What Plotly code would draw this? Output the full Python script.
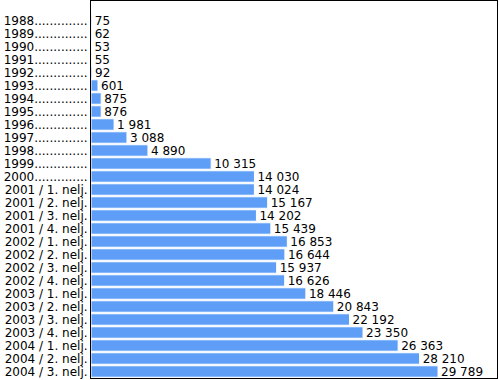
import plotly.graph_objects as go

categories = ["1988", "1989", "1990", "1991", "1992", "1993", "1994", "1995",
              "1996", "1997", "1998", "1999", "2000",
              "2001 / 1. nelj.", "2001 / 2. nelj.", "2001 / 3. nelj.", "2001 / 4. nelj.",
              "2002 / 1. nelj.", "2002 / 2. nelj.", "2002 / 3. nelj.", "2002 / 4. nelj.",
              "2003 / 1. nelj.", "2003 / 2. nelj.", "2003 / 3. nelj.", "2003 / 4. nelj.",
              "2004 / 1. nelj.", "2004 / 2. nelj.", "2004 / 3. nelj."]
values = [75, 62, 53, 55, 92, 601, 875, 876, 1981, 3088, 4890, 10315, 14030,
          14024, 15167, 14202, 15439, 16853, 16644, 15937, 16626,
          18446, 20843, 22192, 23350, 26363, 28210, 29789]

labels = [c if "nelj" in c else c + "." * 14 for c in categories]
texts = [f"{v:,}".replace(",", " ") for v in values]

fig = go.Figure(go.Bar(
    y=labels, x=values, orientation="h",
    text=texts, textposition="outside", cliponaxis=False, constraintext="none",
    textfont=dict(family="DejaVu Sans", size=12, color="black"),
    marker=dict(color="#5E9EF7", line=dict(color="white", width=1)),
))

fig.update_layout(
    width=499, height=380,
    margin=dict(l=91, r=2, t=1, b=2, autoexpand=False),
    paper_bgcolor="white", plot_bgcolor="white",
    bargap=0.12, showlegend=False,
    font=dict(family="DejaVu Sans", size=12, color="black"),
    xaxis=dict(range=[0, 34850], showticklabels=False, showgrid=False, zeroline=False,
               showline=True, linecolor="black", linewidth=1, mirror=True, ticks="",
               automargin=False),
    yaxis=dict(categoryorder="array", categoryarray=labels,
               tickmode="array", tickvals=labels, ticktext=labels,
               range=[len(labels) - 0.5, -1.5], showgrid=False, zeroline=False,
               showline=True, linecolor="black", linewidth=1, mirror=True, ticks="",
               automargin=False,
               tickfont=dict(family="DejaVu Sans", size=12, color="black")),
)

fig.write_html("out.html", config={"displayModeBar": False},
               post_script="document.body.style.margin='0';document.body.style.overflow='hidden';")
